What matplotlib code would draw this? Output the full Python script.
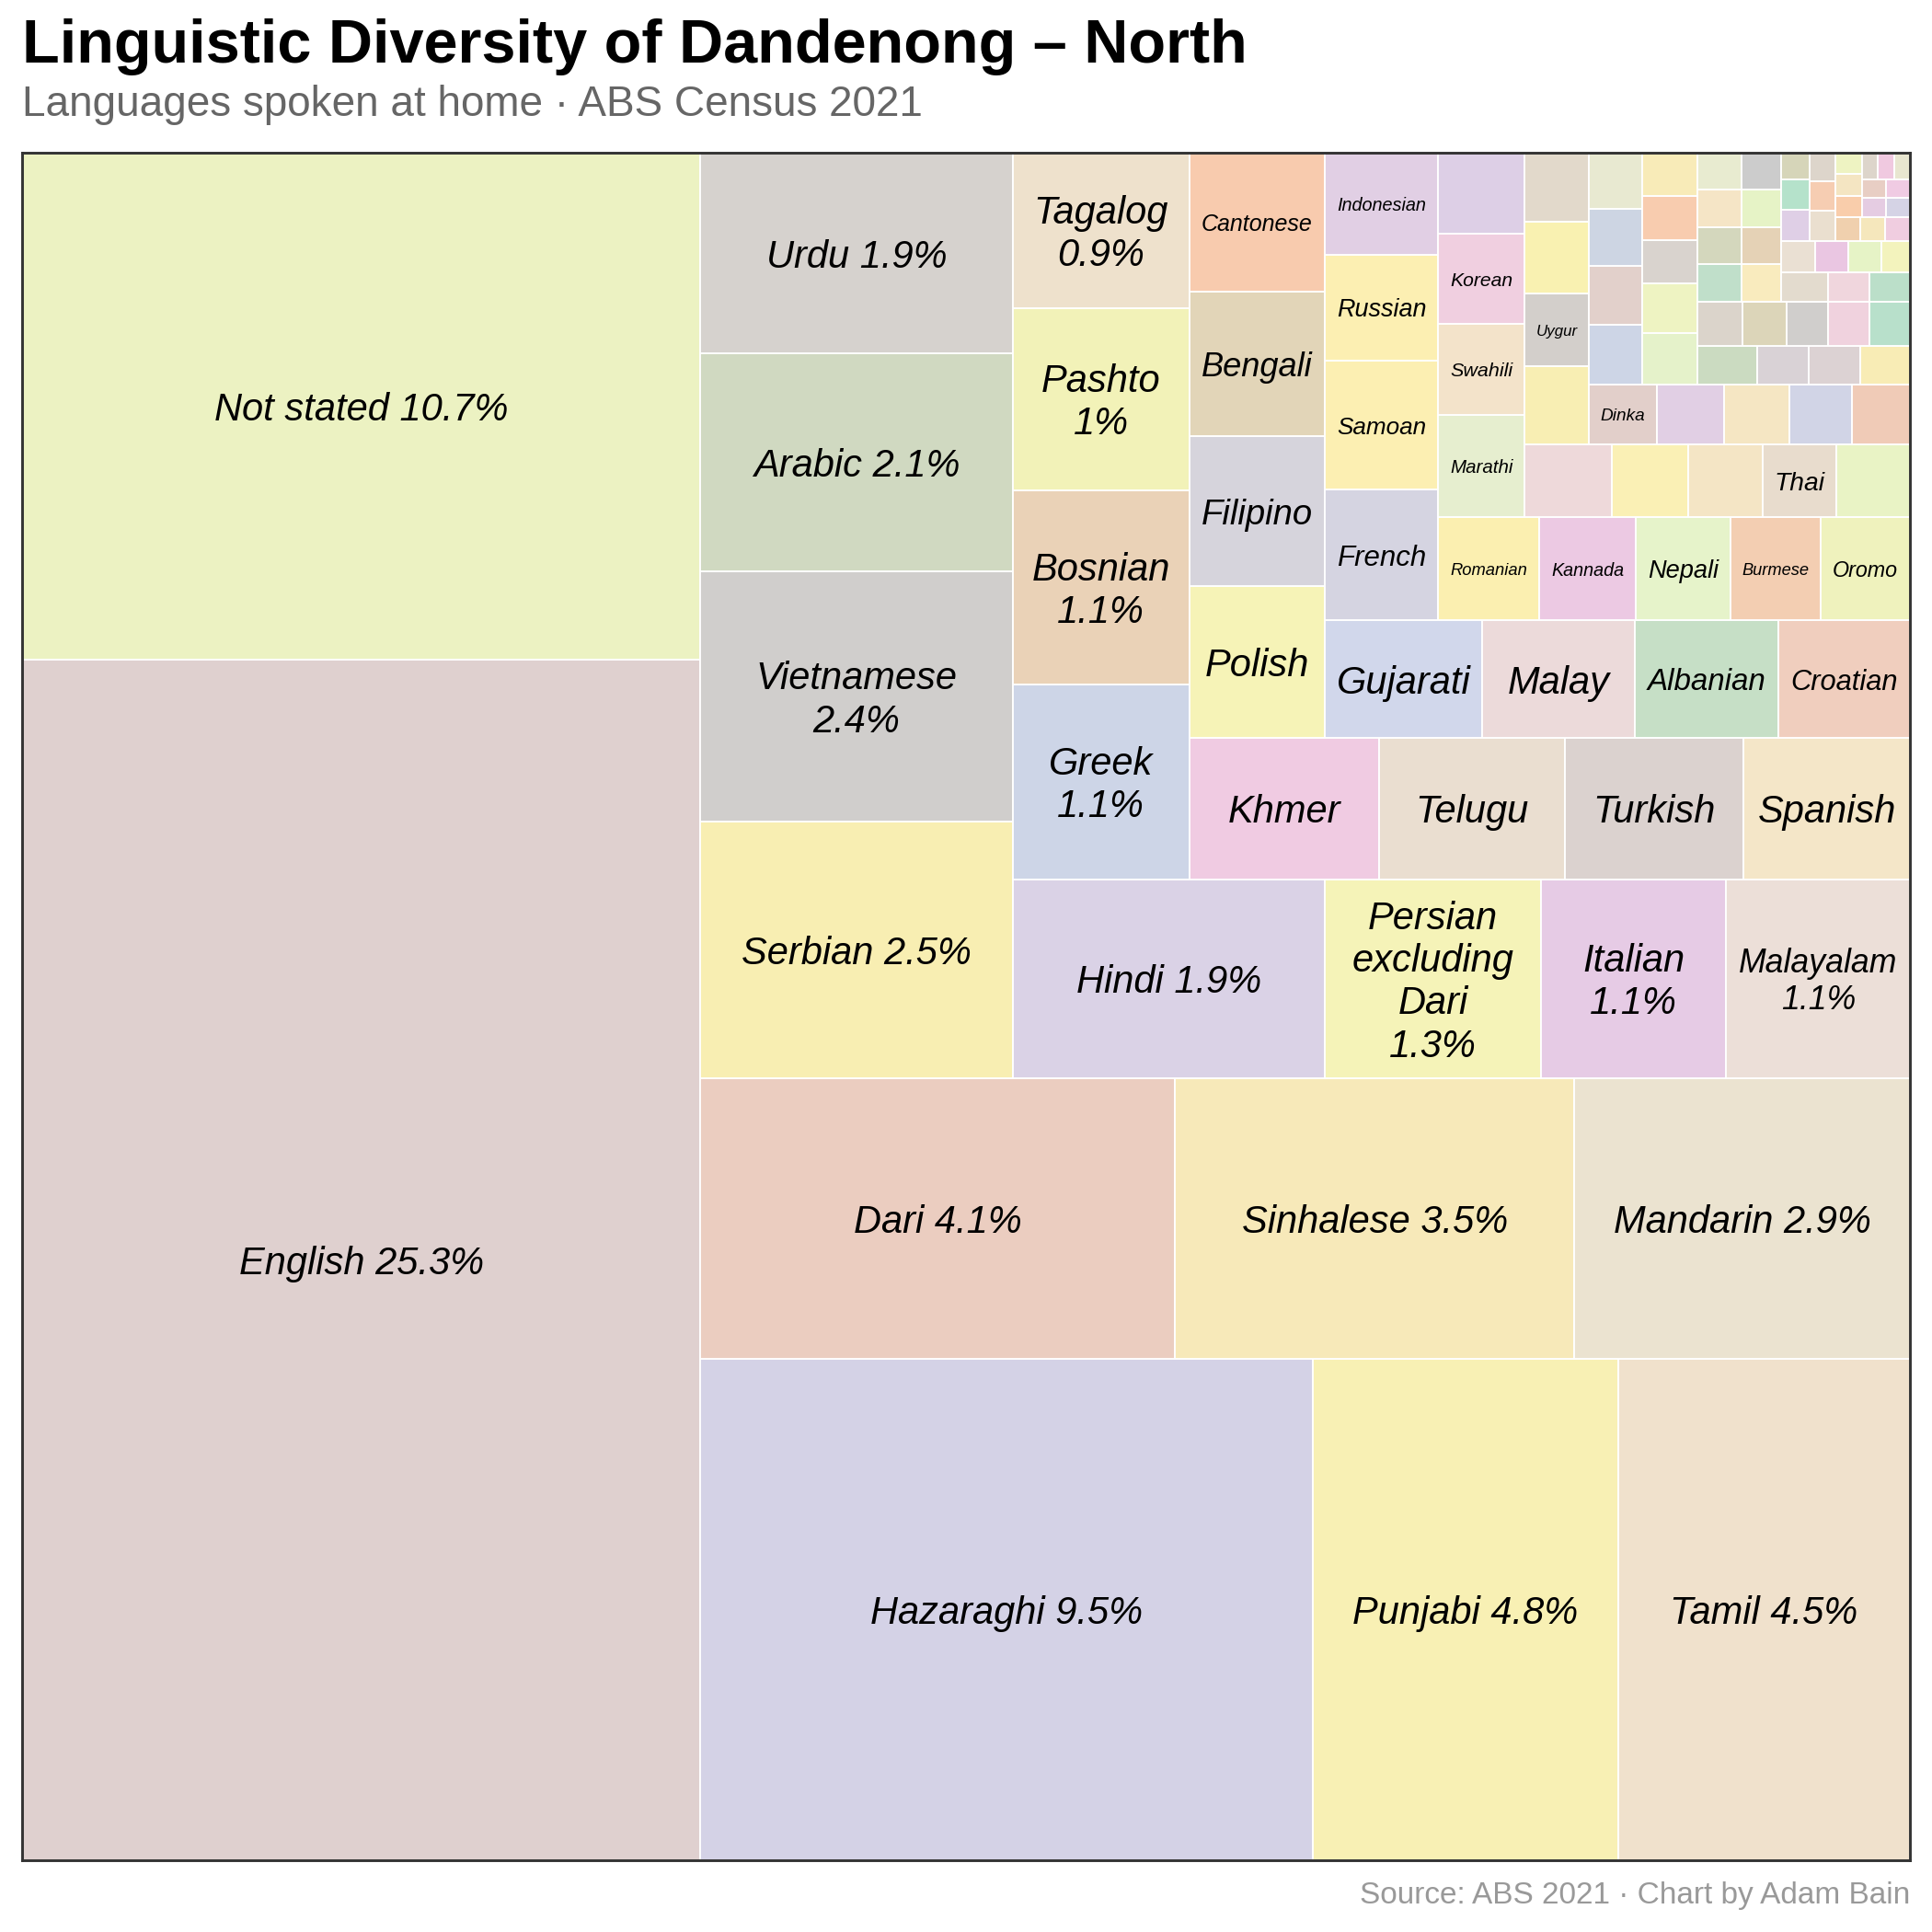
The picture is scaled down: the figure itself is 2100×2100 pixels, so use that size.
import textwrap
import math

import matplotlib
matplotlib.use("Agg")
import matplotlib.pyplot as plt
from matplotlib.patches import Rectangle

# ---- data (share of residents, %), largest first ----
languages = [
    "English", "Not stated", "Hazaraghi", "Punjabi", "Tamil", "Dari", "Sinhalese", "Mandarin",
    "Serbian", "Vietnamese", "Arabic", "Urdu", "Hindi", "Persian excluding Dari", "Italian", "Malayalam",
    "Greek", "Bosnian", "Pashto", "Tagalog", "Khmer", "Telugu", "Turkish", "Spanish",
    "Polish", "Filipino", "Bengali", "Cantonese", "Gujarati", "Malay", "Albanian", "Croatian",
    "French", "Samoan", "Russian", "Indonesian", "Romanian", "Kannada", "Nepali", "Burmese", "Oromo",
    "Marathi", "Swahili", "Korean", "", "", "", "", "Thai", "", "", "Uygur", "", "",
    "Dinka", "", "", "", "", "", "", "", "", "", "", "", "", "",
    "", "", "", "", "", "", "", "", "", "", "", "", "", "",
    "", "", "", "", "", "", "", "", "", "", "", "", "", "",
    "", "", "", "", "", "", "", "", "", "", "", "", "", "", "",
]

shares = [
    25.26, 10.66, 9.52, 4.75, 4.54, 4.13, 3.48, 2.92,
    2.48, 2.42, 2.11, 1.94, 1.924, 1.33, 1.14, 1.13,
    1.07, 1.065, 0.997, 0.852, 0.834, 0.818, 0.785, 0.73,
    0.637, 0.632, 0.606, 0.585, 0.573, 0.555, 0.519, 0.479,
    0.46, 0.455, 0.37, 0.36, 0.3235, 0.3088, 0.3029, 0.2911, 0.2852,
    0.2718, 0.2449, 0.24, 0.2155, 0.1975, 0.1725, 0.168, 0.1658, 0.1652, 0.157, 0.144, 0.1438, 0.1383,
    0.1256, 0.1253, 0.1214, 0.1157, 0.108, 0.0998, 0.0968, 0.0952, 0.0922,
    0.0885, 0.0842, 0.0752, 0.0748, 0.0743, 0.072, 0.0622, 0.062, 0.0604,
    0.0612, 0.061, 0.0565, 0.0563, 0.0554, 0.0512, 0.051, 0.0509, 0.0505,
    0.0457, 0.0456, 0.0456, 0.0455, 0.043, 0.0377, 0.0369, 0.0331, 0.0319, 0.0325, 0.0279,
    0.0272, 0.0269, 0.0236, 0.0236, 0.0236, 0.023, 0.0183, 0.0181, 0.0178, 0.018, 0.0182, 0.018,
    0.0143, 0.0141, 0.0139, 0.0138, 0.0127, 0.0135, 0.0127,
]

fills = [
    "#dfd0cf", "#ecf2c2", "#d4d2e6", "#f8f0b4", "#f0e1cc", "#ebcdc0", "#f7e9b9", "#ebe3d0",
    "#f8eeb2", "#d0cecc", "#d0d9c1", "#d6d2ce", "#dad2e6", "#f5f3b8", "#e6cbe5", "#ecdfd8",
    "#cdd5e7", "#ead2b7", "#f2f2b8", "#eee1cc", "#f0cbe2", "#eaded0", "#dbd2cf", "#f4e6c8",
    "#f6f3b7", "#d6d4dc", "#e2d5b8", "#f8cbae", "#d1d7eb", "#ecdada", "#c6dfc6", "#f0cebe",
    "#d5d4e1", "#fcefb2", "#fcefb2", "#e1cfe4", "#fbefb0", "#ecc9e3", "#e6f3ca", "#f3ceb2", "#eff2bd",
    "#e6eecf", "#f3e3ca", "#f0cfe0", "#ddcfe6", "#eed9da", "#faf0b5", "#f4e5c5", "#e8dccd", "#e9f3c5",
    "#f8eeb3", "#d3cfcb", "#f9f1b1", "#e2d9cb",
    "#e2cfca", "#e1cfe4", "#f5e6c3", "#d1d4e6", "#f0cbb7", "#cdd5e6", "#e2d0cb", "#cdd5e3", "#e8e9d1",
    "#e5f2ca", "#eef3c2", "#d9d3ce", "#f8ccaf", "#f8ebb8",
    "#cbdbc1", "#d9d2d6", "#dcd2d3", "#f8ecb5", "#dbd4cb", "#dcd5b9", "#d0cecc", "#f0d2de", "#b8e0cb",
    "#c0dfca", "#d4d7bd", "#f5e5c6", "#e8ebd0", "#f9ebbe",
    "#e5d2b6", "#e6f3c6", "#cccccc", "#e3dbce", "#f0d6dd", "#bbdfc9", "#eae0d3", "#eac6e2", "#e6f3c6",
    "#f3f3bd", "#dfcfe6", "#b5e2cb", "#d6d5b9", "#eadfcf",
    "#f6cdb2", "#ddd5cb", "#f0d0ae", "#f5e7bc", "#f0cde0", "#f9cdab", "#f4e5c2", "#eef3c2", "#e5cce2",
    "#d5d3e5", "#e8cec4", "#f0cbe3", "#ddd5cb", "#f0c9e0", "#e8e6d0",
]

# squarified strips as they fall in the chart: tiles per strip, and strip direction
# ("c" = column on the left, filled bottom-up; "r" = row along the bottom, filled left-right)
strip_sizes = [2, 3, 3, 4, 4, 4, 4, 4, 4, 4, 5, 4, 5, 4, 5, 4, 5, 4, 5, 4, 4, 3, 4, 3, 3, 3, 3, 2, 2, 3]
strip_dirs = "crrcrcrcrcrcrcrccrrccrrccrcrrr"

N_WITH_PCT = 20          # the top 20 get a percentage in the label
LABEL_FONT = "Liberation Sans"
BASE_SIZE = 10.0
MIN_SIZE = 4.0


def strip_layout(vals, sizes, dirs, x, y, w, h):
    rects = []
    i = 0
    for n, d in zip(sizes, dirs):
        row = vals[i:i + n]
        s = sum(row)
        if d == "c":
            cw = s / h
            yy = y
            for r in row:
                rh = r / cw
                rects.append((x, yy, cw, rh))
                yy += rh
            x += cw
            w -= cw
        else:
            rh = s / w
            xx = x
            for r in row:
                rw = r / rh
                rects.append((xx, y, rw, rh))
                xx += rw
            y += rh
            h -= rh
        i += n
    return rects


total = sum(shares)
rects = strip_layout([v / total for v in shares], strip_sizes, strip_dirs, 0.0, 0.0, 1.0, 1.0)

W_PX, H_PX = 2100, 2100
fig = plt.figure(figsize=(7, 7), dpi=300)
ax_left, ax_right, ax_top, ax_bottom = 24, 2076, 166, 2022
ax = fig.add_axes([ax_left / W_PX, 1 - ax_bottom / H_PX,
                   (ax_right - ax_left) / W_PX, (ax_bottom - ax_top) / H_PX])
ax.set_xlim(0, 1)
ax.set_ylim(0, 1)
ax.set_xticks([])
ax.set_yticks([])
for sp in ax.spines.values():
    sp.set_color("#333333")
    sp.set_linewidth(0.7)
    sp.set_zorder(10)

for (x, y, w, h), c in zip(rects, fills):
    ax.add_patch(Rectangle((x, y), w, h, facecolor=c, edgecolor="white", linewidth=0.45))

renderer = fig.canvas.get_renderer()
ax_w_px = ax_right - ax_left
ax_h_px = ax_bottom - ax_top
pad = 12  # ~1 mm


def measure(s, size):
    t = fig.text(0, 0, s, fontsize=size, fontstyle="italic", family=LABEL_FONT,
                 linespacing=1.2, ha="center", multialignment="center")
    bb = t.get_window_extent(renderer)
    t.remove()
    return bb.width, bb.height


def candidates(label):
    out = []
    for width in range(len(label), 0, -1):
        s = "\n".join(textwrap.wrap(label, width, break_long_words=False))
        if s not in out:
            out.append(s)
    return out


for k, ((x, y, w, h), name) in enumerate(zip(rects, languages)):
    if not name:
        continue
    if k < N_WITH_PCT:
        label = f"{name} {round(shares[k], 1):g}%"
    else:
        label = name
    bw = w * ax_w_px - 2 * pad
    bh = h * ax_h_px - 2 * pad
    opts = []
    for s in candidates(label):
        tw, th = measure(s, BASE_SIZE)
        scale = min(1.0, bw / tw, bh / th)
        opts.append((s, tw, th, scale))
    if opts[0][3] >= 1.0:
        text, size = opts[0][0], BASE_SIZE
    else:
        fits = [o for o in opts if o[3] >= 1.0]
        if fits:
            box_ar = bw / bh
            best = min(fits, key=lambda o: abs(math.log((o[1] / o[2]) / box_ar)))
            text, size = best[0], BASE_SIZE
        else:
            best = max(opts, key=lambda o: o[3])
            text, size = best[0], BASE_SIZE * best[3] * 0.98
    if size < MIN_SIZE:
        continue
    # centre on the cap height rather than on the full box with descenders
    ax.annotate(text, (x + w / 2, y + h / 2), xytext=(0, -0.11 * size), textcoords="offset points",
                fontsize=size, fontstyle="italic", family=LABEL_FONT,
                ha="center", va="center", multialignment="center", linespacing=1.2,
                color="black", zorder=5)

fig.text(24 / W_PX, 1 - 68 / H_PX, "Linguistic Diversity of Dandenong \u2013 North",
         fontsize=16, fontweight="bold", family="Liberation Sans", color="black",
         ha="left", va="baseline")
fig.text(24 / W_PX, 1 - 126 / H_PX, "Languages spoken at home \u00b7 ABS Census 2021",
         fontsize=11, family="Liberation Sans", color="#666666", ha="left", va="baseline")
fig.text(2076 / W_PX, 1 - 2069 / H_PX, "Source: ABS 2021 \u00b7 Chart by Adam Bain",
         fontsize=8, family="Liberation Sans", color="#999999", ha="right", va="baseline")

fig.savefig("out.png", dpi=300, facecolor="white")
